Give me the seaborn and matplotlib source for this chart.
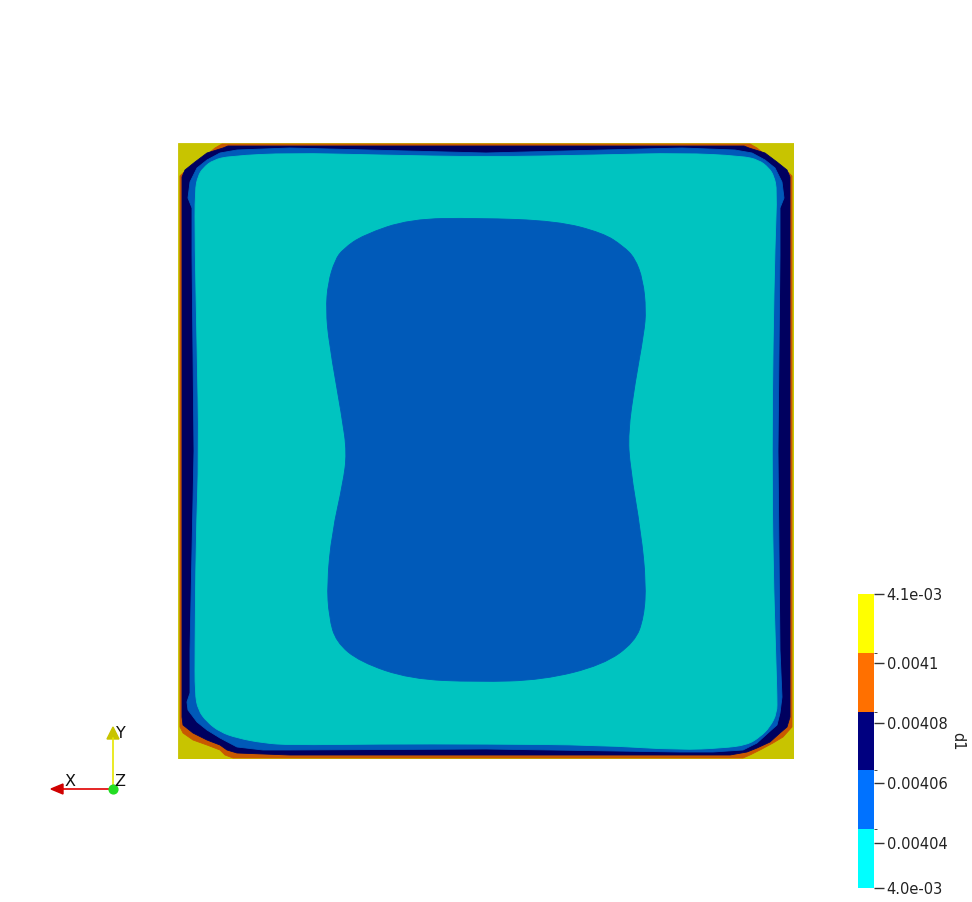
import numpy as np
import matplotlib
matplotlib.use("Agg")
import matplotlib.pyplot as plt
import seaborn as sns
from matplotlib.colors import ListedColormap, BoundaryNorm
from matplotlib.cm import ScalarMappable
from matplotlib.path import Path
from matplotlib.patches import PathPatch

# d1 bands (colour bar)
levels = [0.004025, 0.0040446, 0.0040642, 0.0040838, 0.0041034, 0.004123]
tick_values = [0.004025, 0.00404, 0.00406, 0.00408, 0.0041, 0.004123]
tick_labels = ["4.0e-03", "0.00404", "0.00406", "0.00408", "0.0041", "4.1e-03"]
bar_colors = ["#00ffff", "#0072ff", "#000080", "#ff7000", "#ffff00"]
# same bands as they look on the lit surface
surface_colors = ["#00c4c0", "#005ab9", "#00005f", "#c85800", "#c8c400"]

# contour outlines (domain is 616 x 616, y down)
domain = [(0, 0), (616, 0), (616, 616), (0, 616)]
orange_outline = [(2, 33), (5, 30), (15, 24), (25, 15), (37, 5), (44, 1), (572, 1),
                  (579, 5), (591, 15), (601, 24), (611, 30), (614, 33), (614, 584),
                  (605, 594), (595, 600), (582, 607), (572, 612), (565, 615), (55, 615),
                  (47, 612), (42, 607), (29, 602), (15, 597), (5, 590), (2, 584)]
navy_outline = [(4, 34), (7, 27), (17, 19), (29, 10), (45, 5), (50, 3), (566, 3),
                (571, 5), (587, 10), (599, 19), (609, 27), (612, 34), (612, 574),
                (609, 584), (602, 590), (592, 599), (579, 605), (569, 609), (552, 612),
                (112, 612), (59, 610), (49, 607), (42, 602), (29, 597), (15, 590),
                (5, 582), (4, 574)]
blue_outline = [(14, 112), (14, 65), (10, 55), (12, 39), (19, 25), (29, 17), (42, 10),
                (59, 7), (112, 5), (308, 10), (504, 5), (557, 7), (574, 10), (587, 17),
                (597, 25), (604, 39), (606, 55), (602, 65), (602, 112), (600, 308),
                (602, 507), (604, 554), (602, 570), (599, 582), (590, 590), (579, 600),
                (565, 607), (535, 609), (502, 609), (308, 606), (112, 607), (85, 607),
                (59, 604), (42, 595), (29, 587), (19, 579), (10, 567), (9, 559),
                (12, 550), (12, 507), (16, 308)]
cyan_outline = [(17, 100), (17, 47), (20, 33), (25, 25), (35, 17), (52, 13), (112, 10),
                (200, 12), (308, 14), (420, 12), (504, 10), (564, 13), (581, 17),
                (591, 25), (596, 33), (599, 47), (597, 100), (595, 200), (594, 308),
                (595, 420), (598, 520), (599, 554), (599, 570), (592, 584), (582, 594),
                (569, 602), (545, 605), (502, 607), (420, 602), (308, 601), (200, 601),
                (112, 602), (85, 600), (59, 595), (42, 589), (29, 579), (20, 567),
                (17, 550), (17, 507), (18, 400), (21, 308), (19, 200)]
blob_outline = [(232, 76), (185, 92), (165, 106), (157, 117), (150, 140), (148, 167),
                (151, 200), (164, 274), (169, 310), (165, 340), (154, 390), (149, 440),
                (151, 474), (158, 499), (182, 519), (232, 536), (299, 539), (365, 537),
                (425, 522), (457, 499), (466, 474), (468, 440), (463, 390), (452, 324),
                (450, 290), (457, 240), (466, 190), (468, 167), (465, 137), (457, 115),
                (445, 103), (425, 90), (379, 78), (299, 75)]

# outline, band index (0 = lowest d1), smooth edge?
regions = [(domain, 4, False), (orange_outline, 3, False), (navy_outline, 2, False),
           (blue_outline, 1, False), (cyan_outline, 0, True), (blob_outline, 1, True)]


def smooth_path(pts):
    # closed quadratic bezier through the midpoints, vertices as controls
    mids = (pts + np.roll(pts, -1, axis=0)) / 2
    verts = [mids[-1]]
    codes = [Path.MOVETO]
    for p, m in zip(pts, mids):
        verts += [p, m]
        codes += [Path.CURVE3, Path.CURVE3]
    return Path(verts, codes)


sns.set_style("white")
plt.rcParams["font.family"] = ["DejaVu Sans"]

W, H = 972, 902
fig = plt.figure(figsize=(W / 100, H / 100), dpi=100)

ax = fig.add_axes([178 / W, (H - 759) / H, 616 / W, 616 / H])
for outline, band, smooth in regions:
    pts = np.array(outline, dtype=float)
    col = surface_colors[band]
    if smooth:
        ax.add_patch(PathPatch(smooth_path(pts), fc=col, ec=col, lw=0.6))
    else:
        ax.fill(pts[:, 0], pts[:, 1], color=col, lw=0.6, ec=col)
ax.set_xlim(0, 616)
ax.set_ylim(616, 0)
ax.axis("off")

# colour bar
cax = fig.add_axes([858 / W, (H - 888) / H, 16 / W, 294 / H])
sm = ScalarMappable(norm=BoundaryNorm(levels, len(bar_colors)),
                    cmap=ListedColormap(bar_colors))
cb = fig.colorbar(sm, cax=cax, ticks=tick_values, spacing="proportional")
cb.outline.set_visible(False)
cb.ax.set_yticklabels(tick_labels)
cb.ax.tick_params(axis="y", length=7, width=1, color="#333333", pad=2,
                  labelsize=10.5, labelcolor="#222222")
fig.text(958 / W, 1 - 741 / H, "d1", rotation=270, ha="center", va="center",
         fontsize=10.5, color="#222222")

# orientation triad
tri = fig.add_axes([0, 0, 1, 1])
tri.set_xlim(0, W)
tri.set_ylim(H, 0)
tri.axis("off")
tri.plot([113, 113], [789, 738], color="#e6e600", lw=1.2)
tri.fill([107, 119, 113], [739, 739, 727], color="#c8c400")
tri.plot([113, 62], [789, 789], color="#e00000", lw=1.2)
tri.fill([63, 63, 51], [784, 794, 789], color="#d00000")
tri.scatter([113], [789], s=40, color="#22dd22", zorder=3)
tri.text(116, 733, "Y", fontsize=11.5, va="center", ha="left", color="#111111")
tri.text(65, 782, "X", fontsize=11.5, va="center", ha="left", color="#111111")
tri.text(114, 782, "Z", fontsize=11.5, va="center", ha="left", color="#111111")

fig.savefig("out.png", dpi=100)
